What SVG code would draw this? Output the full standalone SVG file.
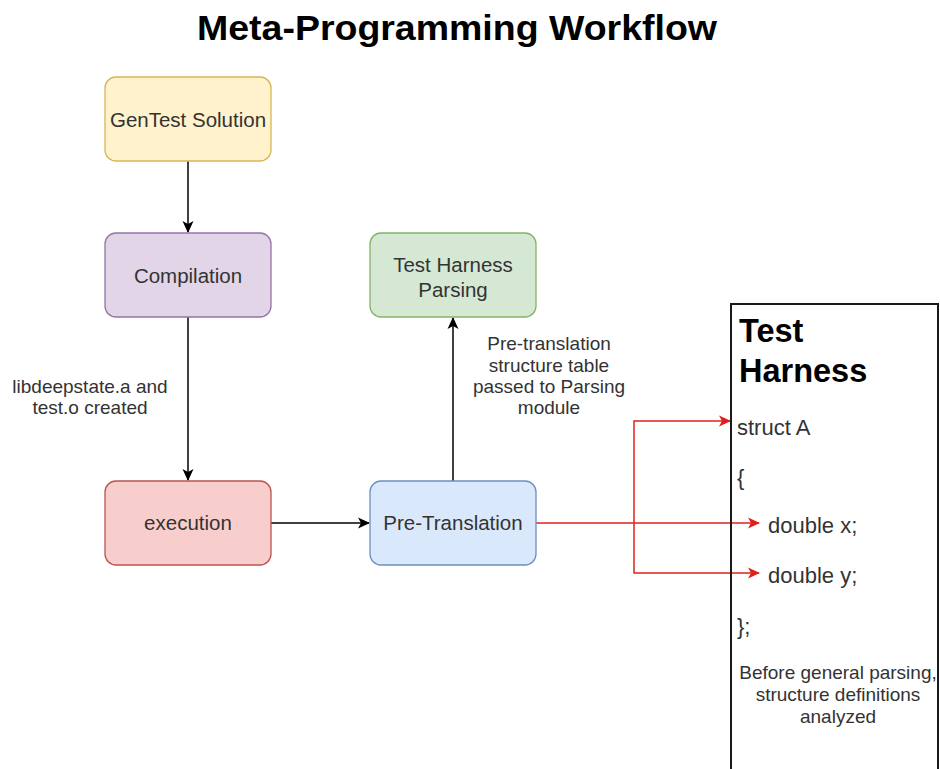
<svg xmlns="http://www.w3.org/2000/svg" width="940" height="769" viewBox="0 0 940 769">
  <defs>
    <style>
      .lbl { font-family: "Liberation Sans", Arial, sans-serif; font-size: 20.5px; fill: #333333; text-anchor: middle; }
      .note { font-family: "Liberation Sans", Arial, sans-serif; font-size: 19px; fill: #333333; text-anchor: middle; }
      .code { font-family: "Liberation Sans", Arial, sans-serif; font-size: 22px; fill: #333333; }
      .head { font-family: "Liberation Sans", Arial, sans-serif; font-size: 32.5px; font-weight: bold; fill: #000000; }
      .box { stroke-width: 1.3; }
      .edge { fill: none; stroke: #000000; stroke-width: 1.5; }
      .red { fill: none; stroke: #e0201c; stroke-width: 1.5; }
    </style>
    <marker id="arrowBlack" markerWidth="14" markerHeight="14" refX="11" refY="7" orient="auto" markerUnits="userSpaceOnUse">
      <path d="M0,1.5 L12,7 L0,12.5 L3,7 Z" fill="#000000"/>
    </marker>
    <marker id="arrowRed" markerWidth="14" markerHeight="14" refX="11" refY="7" orient="auto" markerUnits="userSpaceOnUse">
      <path d="M0,1.5 L12,7 L0,12.5 L3,7 Z" fill="#e0201c"/>
    </marker>
  </defs>

  <rect width="940" height="769" fill="#ffffff"/>

  <text x="457" y="40" font-family="Liberation Sans, Arial, sans-serif" font-size="35" font-weight="bold" fill="#000000" text-anchor="middle" textLength="520" lengthAdjust="spacingAndGlyphs">Meta-Programming Workflow</text>

  <!-- connectors -->
  <g id="connectors">
    <line class="edge" x1="188" y1="161" x2="188" y2="232" marker-end="url(#arrowBlack)"/>
    <line class="edge" x1="188" y1="317" x2="188" y2="480" marker-end="url(#arrowBlack)"/>
    <line class="edge" x1="271" y1="523" x2="369" y2="523" marker-end="url(#arrowBlack)"/>
    <line class="edge" x1="453" y1="481" x2="453" y2="318" marker-end="url(#arrowBlack)"/>
    <line class="red" x1="536" y1="523" x2="759" y2="523" marker-end="url(#arrowRed)"/>
    <polyline class="red" points="634,523 634,421 730,421" marker-end="url(#arrowRed)"/>
    <polyline class="red" points="634,523 634,573 759,573" marker-end="url(#arrowRed)"/>
  </g>

  <g id="gentest">
    <rect class="box" x="105" y="77" width="166" height="84" rx="11" fill="#fff2cc" stroke="#d6b656"/>
    <text class="lbl" x="188" y="127">GenTest Solution</text>
  </g>

  <g id="compilation">
    <rect class="box" x="105" y="233" width="166" height="84" rx="11" fill="#e1d5e7" stroke="#9673a6"/>
    <text class="lbl" x="188" y="283">Compilation</text>
  </g>

  <g id="compile-note">
    <text class="note" x="90" y="393">libdeepstate.a and</text>
    <text class="note" x="90" y="414">test.o created</text>
  </g>

  <g id="execution">
    <rect class="box" x="105" y="481" width="166" height="84" rx="11" fill="#f8cecc" stroke="#b85450"/>
    <text class="lbl" x="188" y="530">execution</text>
  </g>

  <g id="pre-translation">
    <rect class="box" x="370" y="481" width="166" height="84" rx="11" fill="#dae8fc" stroke="#6c8ebf"/>
    <text class="lbl" x="453" y="530">Pre-Translation</text>
  </g>

  <g id="harness-parsing">
    <rect class="box" x="370" y="233" width="166" height="84" rx="11" fill="#d5e8d4" stroke="#82b366"/>
    <text class="lbl" x="453" y="272">Test Harness</text>
    <text class="lbl" x="453" y="297">Parsing</text>
  </g>

  <g id="parsing-note">
    <text class="note" x="549" y="350">Pre-translation</text>
    <text class="note" x="549" y="372">structure table</text>
    <text class="note" x="549" y="393">passed to Parsing</text>
    <text class="note" x="549" y="414">module</text>
  </g>

  <g id="test-harness">
    <rect x="731" y="304" width="207" height="480" fill="none" stroke="#1a1a1a" stroke-width="2"/>
    <text class="head" x="739" y="342">Test</text>
    <text class="head" x="739" y="382">Harness</text>
    <text class="code" x="737" y="435">struct A</text>
    <text class="code" x="737" y="485">{</text>
    <text class="code" x="768" y="533">double x;</text>
    <text class="code" x="768" y="583">double y;</text>
    <text class="code" x="737" y="634">};</text>
    <text class="note" x="838" y="679" font-size="18">Before general parsing,</text>
    <text class="note" x="838" y="701" font-size="18">structure definitions</text>
    <text class="note" x="838" y="723" font-size="18">analyzed</text>
  </g>
</svg>
